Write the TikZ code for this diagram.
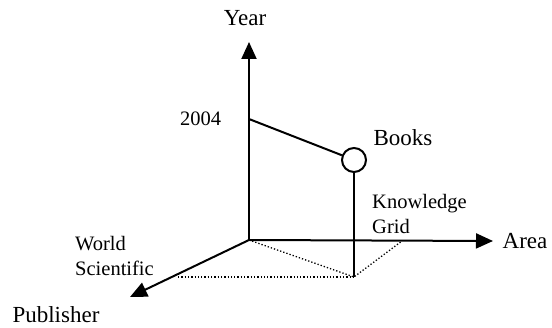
\documentclass[tikz,border=0pt]{standalone}
\usepackage{fontspec}
\setmainfont{Liberation Serif}
\usetikzlibrary{arrows.meta}
\begin{document}
\begin{tikzpicture}[x=1pt,y=-1pt,
  axis/.style={line width=2pt,-{Triangle[length=17pt,width=15pt]}},
  solidline/.style={line width=2pt},
  dotline/.style={line width=1.3pt,dotted},
  big/.style={font=\fontsize{23}{26}\selectfont,inner sep=0pt},
  small/.style={font=\fontsize{20.5}{25}\selectfont,inner sep=0pt,align=left}]
\useasboundingbox (0,0) rectangle (552,328);
\coordinate (O) at (249,240);
\coordinate (Ytip) at (249,42);
\coordinate (Atip) at (493,241);
\coordinate (Ptip) at (130,297);
\coordinate (Y04) at (249,119);
\coordinate (P) at (354,277);
\coordinate (Pl) at (178,277);
\coordinate (Ak) at (402,241);
\node[circle,draw,line width=2pt,minimum size=24pt,inner sep=0pt] (B) at (354,160) {};
\draw[axis] (O) -- (Ytip);
\draw[axis] (O) -- (Atip);
\draw[axis] (O) -- (Ptip);
\draw[solidline] (Y04) -- (B);
\draw[solidline] (B) -- (P);
\draw[dotline] (O) -- (P) -- (Ak);
\draw[dotline] (Pl) -- (P);
\node[big] (lyear) at (245,18) {Year};
\node[big] (larea) at (525,241) {Area};
\node[big] (lbooks) at (403,138) {Books};
\node[big] (lpub) at (56,315) {Publisher};
\node[small,anchor=west] (l2004) at (180,119) {2004};
\node[small,anchor=west] (lkg) at (372,214) {Knowledge\\Grid};
\node[small,anchor=west] (lws) at (75,256) {World\\Scientific};
\end{tikzpicture}
\end{document}
